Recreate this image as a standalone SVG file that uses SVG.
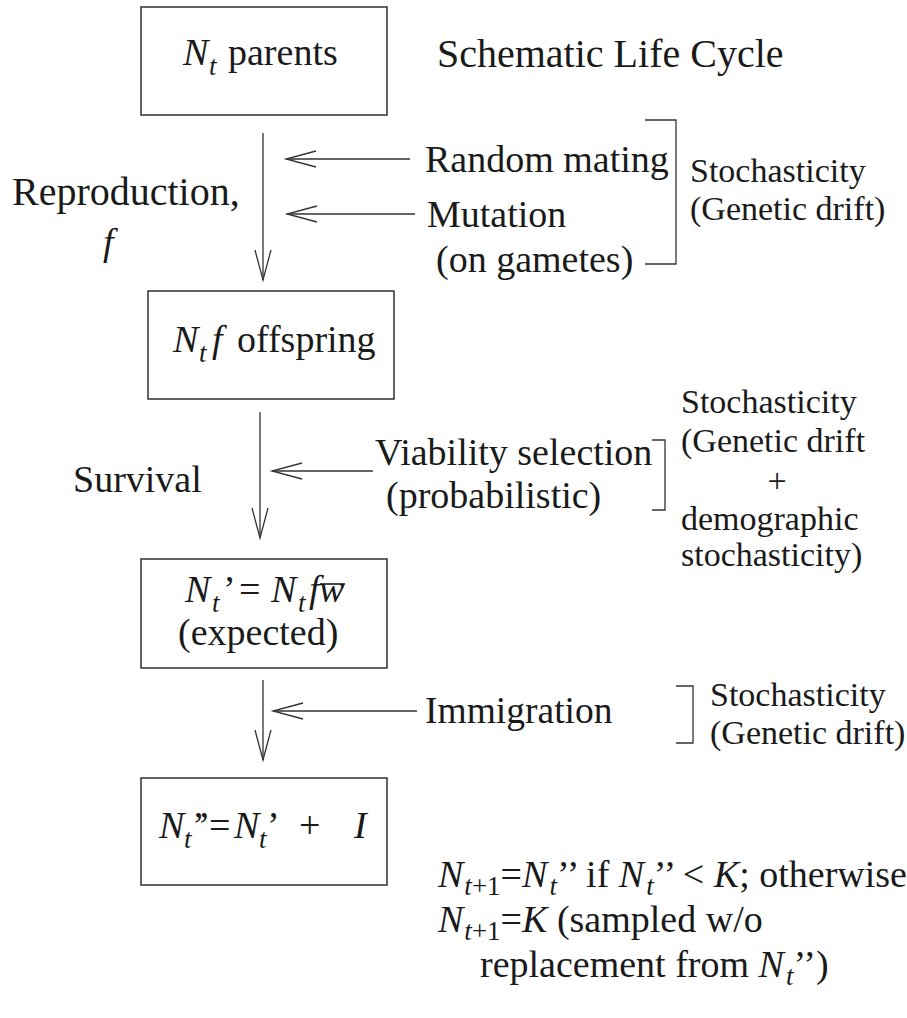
<svg xmlns="http://www.w3.org/2000/svg" width="907" height="1018" viewBox="0 0 907 1018">
<defs>
<style>
text{font-family:'Liberation Serif','Times New Roman',serif}
.t{font-size:38px;fill:#1a1a1a}
.s{font-size:34px}
.i{font-style:italic}
.sb{font-size:27px}
.box{fill:none;stroke:#222;stroke-width:1.4}
.ln{fill:none;stroke:#333;stroke-width:1.3}
</style>
<marker id="v" viewBox="0 0 30 16" refX="30" refY="8" markerWidth="30" markerHeight="16" markerUnits="userSpaceOnUse" orient="auto" overflow="visible">
<path d="M0,0 L30,8 L0,16" fill="none" stroke="#333" stroke-width="1.3"/>
</marker>
</defs>
<rect width="907" height="1018" fill="#fff"/>

<g id="connectors">
<line class="ln" x1="263" y1="133" x2="263" y2="280" marker-end="url(#v)"/>
<line class="ln" x1="410" y1="159" x2="286" y2="159" marker-end="url(#v)"/>
<line class="ln" x1="415" y1="214" x2="287" y2="214" marker-end="url(#v)"/>
<line class="ln" x1="260" y1="412" x2="260" y2="538" marker-end="url(#v)"/>
<line class="ln" x1="373" y1="471" x2="272" y2="471" marker-end="url(#v)"/>
<line class="ln" x1="263" y1="680" x2="263" y2="760" marker-end="url(#v)"/>
<line class="ln" x1="417" y1="711" x2="273" y2="711" marker-end="url(#v)"/>
<path class="ln" d="M645,120 H676 V264 H645"/>
<path class="ln" d="M652,440 H665 V510 H652"/>
<path class="ln" d="M676,686 H693 V743 H676"/>
</g>

<g id="n1">
<rect class="box" x="141" y="7" width="246" height="108"/>
<text class="t"><tspan class="i" x="183" y="65">N</tspan><tspan class="i sb" x="209" y="75">t</tspan><tspan x="228" y="65">parents</tspan></text>
</g>
<g id="title">
<text class="t" x="437" y="67" style="font-size:40px">Schematic Life Cycle</text>
</g>

<g id="lbl-repro">
<text class="t" x="12" y="205" style="font-size:40px">Reproduction,</text>
<text class="t i" x="103" y="255">f</text>
</g>
<g id="lbl-random"><text class="t" x="425" y="172">Random mating</text></g>
<g id="lbl-mutation">
<text class="t" x="427" y="227">Mutation</text>
<text class="t" x="436" y="272">(on gametes)</text>
</g>
<g id="lbl-stoch1">
<text class="t s" x="690" y="182">Stochasticity</text>
<text class="t s" x="690" y="220">(Genetic drift)</text>
</g>

<g id="n2">
<rect class="box" x="148" y="291" width="246" height="108"/>
<text class="t"><tspan class="i" x="173" y="352">N</tspan><tspan class="i sb" x="199" y="362">t</tspan><tspan class="i" x="212" y="352">f</tspan><tspan x="237" y="352">offspring</tspan></text>
</g>

<g id="lbl-survival"><text class="t" x="73" y="492">Survival</text></g>
<g id="lbl-viability">
<text class="t" x="375" y="465">Viability selection</text>
<text class="t" x="386" y="508">(probabilistic)</text>
</g>
<g id="lbl-stoch2">
<text class="t s" x="681" y="413">Stochasticity</text>
<text class="t s" x="681" y="452">(Genetic drift</text>
<text class="t s" x="777" y="492" text-anchor="middle">+</text>
<text class="t s" x="681" y="530">demographic</text>
<text class="t s" x="681" y="566">stochasticity)</text>
</g>

<g id="n3">
<rect class="box" x="141" y="559" width="246" height="109"/>
<text class="t"><tspan class="i" x="185" y="602">N</tspan><tspan class="i sb" x="212" y="612">t</tspan><tspan x="223" y="602">’</tspan><tspan x="239" y="602">=</tspan><tspan class="i" x="271" y="602">N</tspan><tspan class="i sb" x="298" y="612">t</tspan><tspan class="i" x="309" y="602">f</tspan><tspan class="i" x="319" y="602">w</tspan></text>
<line x1="320" y1="584" x2="345" y2="584" stroke="#1a1a1a" stroke-width="1.6"/>
<text class="t" x="178" y="645">(expected)</text>
</g>

<g id="lbl-immig"><text class="t" x="425" y="723" style="font-size:37.5px">Immigration</text></g>
<g id="lbl-stoch3">
<text class="t s" x="710" y="706">Stochasticity</text>
<text class="t s" x="710" y="744">(Genetic drift)</text>
</g>

<g id="n4">
<rect class="box" x="141" y="778" width="246" height="107"/>
<text class="t"><tspan class="i" x="159" y="838">N</tspan><tspan class="i sb" x="184" y="848">t</tspan><tspan x="192" y="838" letter-spacing="-4">’’</tspan><tspan x="209" y="838">=</tspan><tspan class="i" x="234" y="838">N</tspan><tspan class="i sb" x="259" y="848">t</tspan><tspan x="267" y="838">’</tspan><tspan x="299" y="838">+</tspan><tspan class="i" x="354" y="838">I</tspan></text>
</g>

<g id="lbl-rule">
<text class="t"><tspan class="i" x="438" y="887">N</tspan><tspan class="sb" y="895" dx="1"><tspan class="i">t</tspan>+1</tspan><tspan y="887">=</tspan><tspan class="i">N</tspan><tspan class="i sb" y="895" dx="2">t</tspan><tspan y="887">’’ if </tspan><tspan class="i">N</tspan><tspan class="i sb" y="895" dx="2">t</tspan><tspan y="887">’’ &lt; </tspan><tspan class="i">K</tspan><tspan>; otherwise</tspan></text>
<text class="t"><tspan class="i" x="438" y="932">N</tspan><tspan class="sb" y="940" dx="1"><tspan class="i">t</tspan>+1</tspan><tspan y="932">=</tspan><tspan class="i">K</tspan><tspan> (sampled w/o</tspan></text>
<text class="t"><tspan x="480" y="977">replacement from </tspan><tspan class="i">N</tspan><tspan class="i sb" y="985" dx="2">t</tspan><tspan y="977">’’)</tspan></text>
</g>
</svg>
